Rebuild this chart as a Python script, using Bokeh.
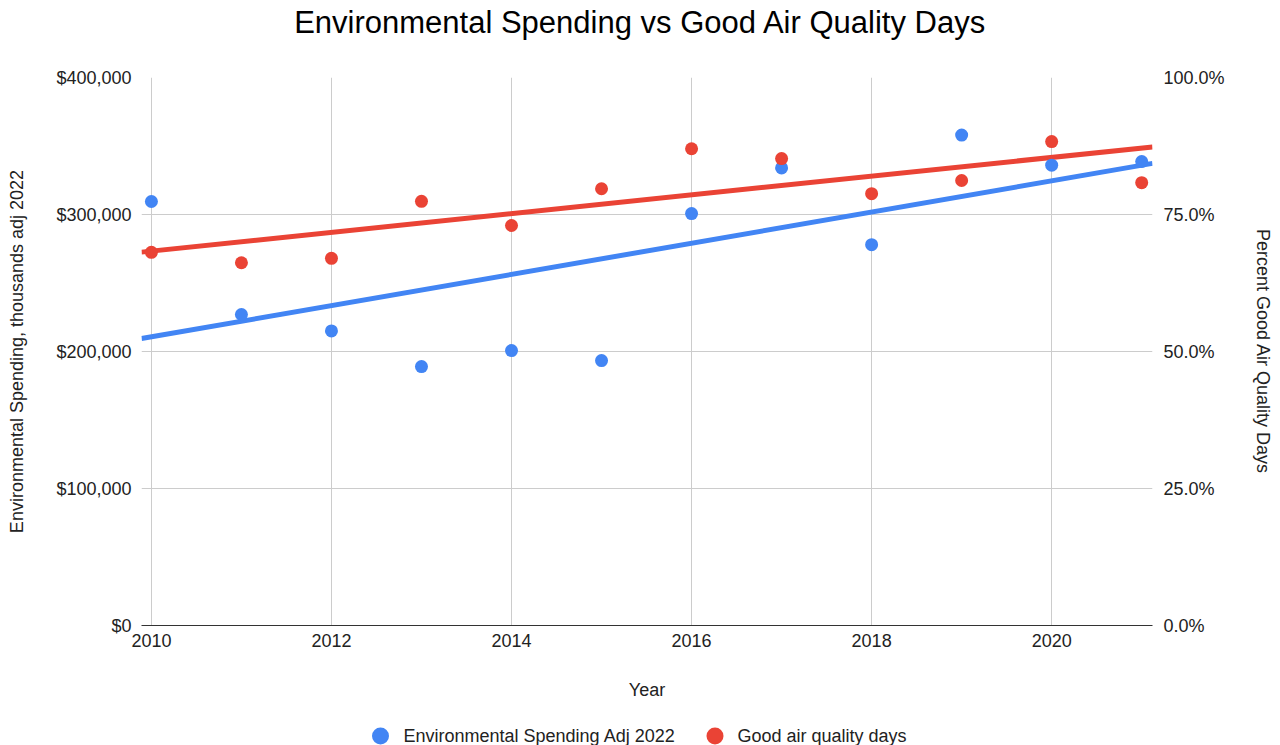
import numpy as np
from bokeh.plotting import figure
from bokeh.layouts import column
from bokeh.core.properties import value
from bokeh.models import (Range1d, LinearAxis, FixedTicker, NumeralTickFormatter,
                          PrintfTickFormatter)
from bokeh.embed import file_html
from bokeh.resources import INLINE

# ---- data ----
years = [2010, 2011, 2012, 2013, 2014, 2015, 2016, 2017, 2018, 2019, 2020, 2021]
spending = [309500, 227000, 215000, 189000, 200700, 193400, 300700, 334000, 278000, 358000, 336000, 338700]
good_air_pct = [68.1, 66.2, 67.0, 77.4, 73.0, 79.7, 87.0, 85.2, 78.8, 81.2, 88.3, 80.8]
x_ticks = [2010, 2012, 2014, 2016, 2018, 2020]
left_ticks = [0, 100000, 200000, 300000, 400000]
right_ticks = [0, 25, 50, 75, 100]
series_names = ["Environmental Spending Adj 2022", "Good air quality days"]
chart_title = "Environmental Spending vs Good Air Quality Days"

BLUE = "#4285F4"
RED = "#EA4335"
FONT = "Liberation Sans"
W = 1280
HEAD_H, MAIN_H, FOOT_H = 50, 658, 37
FRAME_L, FRAME_R = 141, 1152   # frames are aligned across the column

x0, x1 = 2009.89, 2021.12

# ---- title strip (x in page pixels) ----
head = figure(width=W, height=HEAD_H, output_backend="svg", toolbar_location=None,
              x_range=Range1d(FRAME_L, FRAME_R), y_range=Range1d(0, HEAD_H),
              x_axis_location=None, y_axis_location=None, min_border=0)
head.grid.visible = False
head.outline_line_color = None
head.text(x=[640], y=[HEAD_H - 22], text=[chart_title], text_font=value(FONT),
          text_font_size="31px", text_color="#000000", text_align="center",
          text_baseline="middle")

# ---- main chart ----
p = figure(width=W, height=MAIN_H, output_backend="svg", toolbar_location=None,
           x_range=Range1d(x0, x1), y_range=Range1d(0, 400000),
           min_border_left=FRAME_L, min_border_right=W - FRAME_R,
           min_border_top=27, min_border_bottom=83)
p.extra_y_ranges = {"pct": Range1d(0, 100)}
p.outline_line_color = None
p.background_fill_color = "white"
p.border_fill_color = "white"

p.xgrid.ticker = FixedTicker(ticks=x_ticks)
p.ygrid.ticker = FixedTicker(ticks=left_ticks)
for g in (p.xgrid, p.ygrid):
    g.grid_line_color = "#cccccc"
    g.grid_line_width = 1

xa = p.xaxis[0]
xa.ticker = FixedTicker(ticks=x_ticks)
xa.axis_label = "Year"
xa.axis_line_color = "#333333"
xa.major_label_standoff = 8
xa.axis_label_standoff = 30

ya = p.yaxis[0]
ya.ticker = FixedTicker(ticks=left_ticks)
ya.formatter = NumeralTickFormatter(format="$0,0")
ya.axis_label = "Environmental Spending, thousands adj 2022"
ya.axis_line_color = None
ya.major_label_standoff = 10
ya.axis_label_standoff = 26

ra = LinearAxis(y_range_name="pct", ticker=FixedTicker(ticks=right_ticks),
                formatter=PrintfTickFormatter(format="%.1f%%"),
                axis_label="Percent Good Air Quality Days")
ra.axis_line_color = None
ra.major_label_standoff = 11
ra.axis_label_standoff = 25
p.add_layout(ra, "right")

for ax in (xa, ya, ra):
    ax.major_tick_line_color = None
    ax.minor_tick_line_color = None
    ax.major_tick_out = 0
    ax.major_tick_in = 0
    ax.minor_tick_out = 0
    ax.minor_tick_in = 0
    ax.major_label_text_font = FONT
    ax.major_label_text_font_size = "18px"
    ax.major_label_text_color = "#222222"
    ax.axis_label_text_font = FONT
    ax.axis_label_text_font_size = "18px"
    ax.axis_label_text_font_style = "normal"
    ax.axis_label_text_color = "#222222"

# trendlines (least squares from the data)
xs = np.array(years, dtype=float)
bs = np.polyfit(xs, np.array(spending, dtype=float), 1)
rs = np.polyfit(xs, np.array(good_air_pct, dtype=float), 1)
tx = [x0, x1]
p.line(tx, [bs[0] * x + bs[1] for x in tx], line_color=BLUE, line_width=5)
p.line(tx, [rs[0] * x + rs[1] for x in tx], line_color=RED, line_width=5, y_range_name="pct")

p.scatter(years, spending, size=13, fill_color=BLUE, line_color=None)
p.scatter(years, good_air_pct, size=13, fill_color=RED, line_color=None, y_range_name="pct")

# ---- legend strip (x in page pixels) ----
foot = figure(width=W, height=FOOT_H, output_backend="svg", toolbar_location=None,
              x_range=Range1d(FRAME_L, FRAME_R), y_range=Range1d(0, FOOT_H),
              x_axis_location=None, y_axis_location=None, min_border=0)
foot.grid.visible = False
foot.outline_line_color = None
ly = FOOT_H - 27.5
foot.scatter([380, 714.5], [ly, ly], size=17, fill_color=[BLUE, RED], line_color=None)
foot.text(x=[403, 737], y=[ly, ly], text=series_names, text_font=value(FONT),
          text_font_size="18px", text_color="#222222", text_align="left",
          text_baseline="middle")

layout = column(head, p, foot, spacing=0)
open("out.html", "w").write(file_html(layout, INLINE))
